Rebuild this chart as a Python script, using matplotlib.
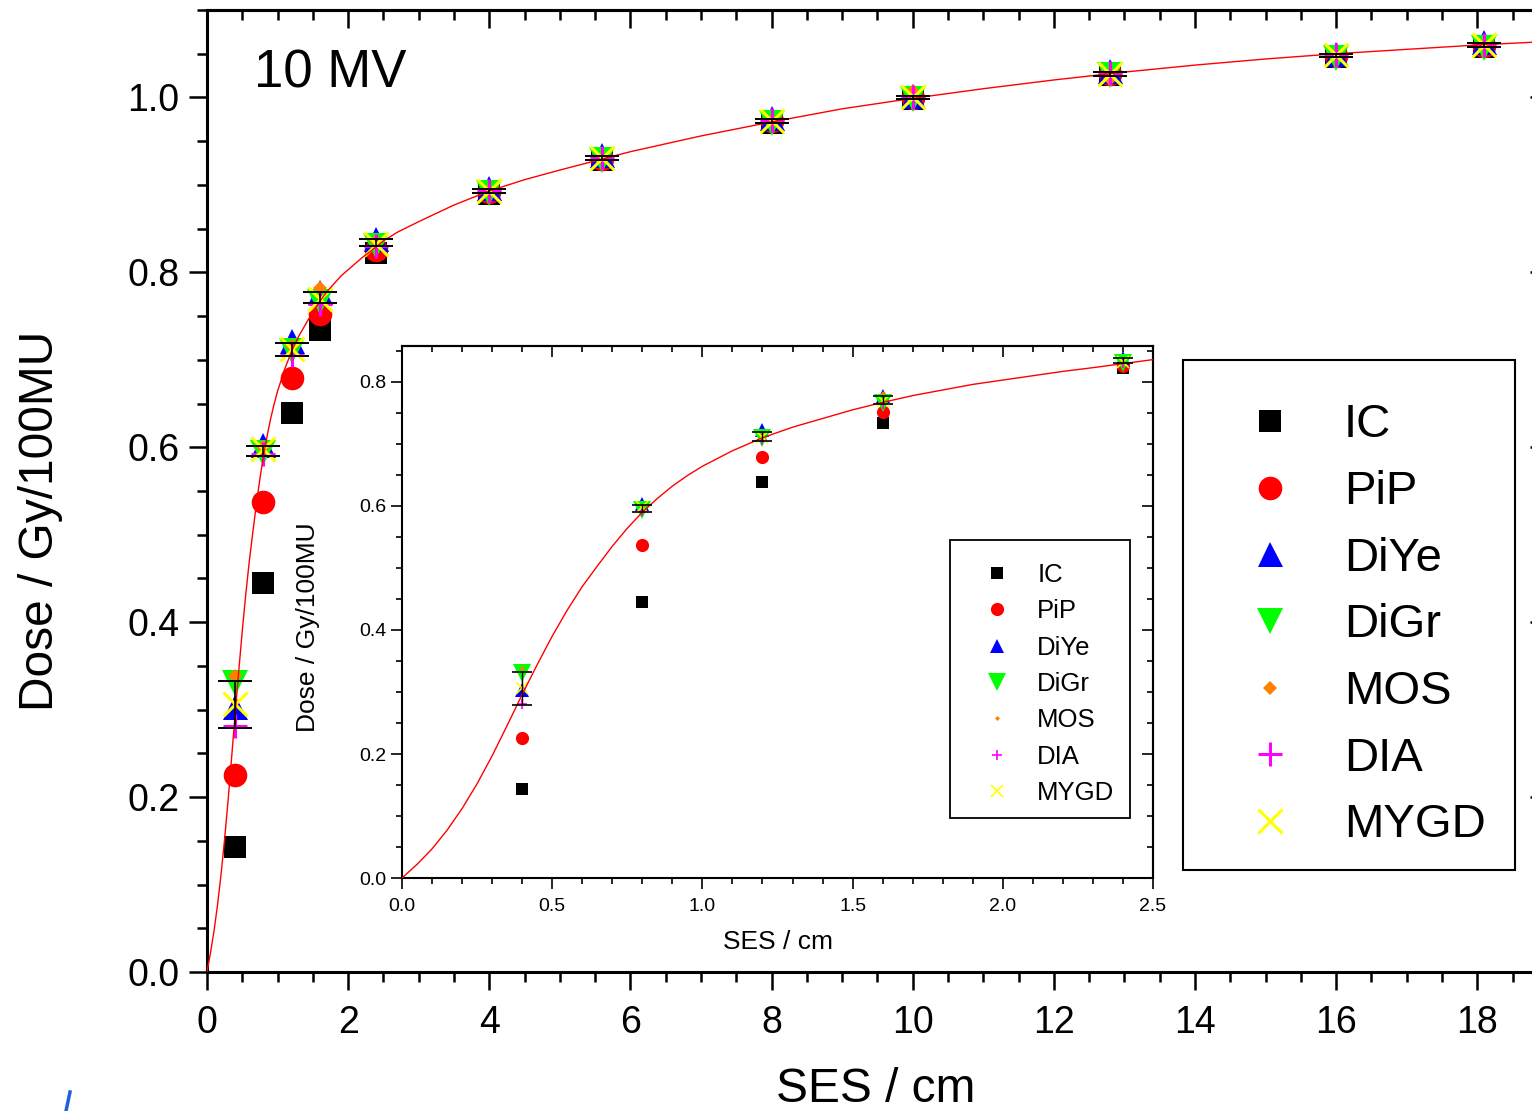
"""
depth dose build-up, 10 MV - main plot with inset of the first 2.5 cm
"""
import numpy as np
import matplotlib
matplotlib.use("Agg")
import matplotlib.pyplot as plt
from matplotlib.ticker import MultipleLocator, FormatStrFormatter
from matplotlib.lines import Line2D
from matplotlib.patches import Rectangle

plt.rcParams['font.family'] = ['Liberation Sans', 'DejaVu Sans']

# --- data ---
ses = [0.4, 0.8, 1.2, 1.6, 2.4, 4.0, 5.6, 8.0, 10.0, 12.8, 16.0, 18.1]

dose_ic = [0.143, 0.445, 0.639, 0.734, 0.822, 0.890, 0.928, 0.971, 0.998, 1.026, 1.046, 1.058]
dose_pip = [0.225, 0.537, 0.679, 0.752, 0.826, 0.892, 0.930, 0.973, 0.999, 1.027, 1.047, 1.059]
dose_diye = [0.303, 0.603, 0.722, 0.778, 0.838, 0.897, 0.934, 0.976, 1.002, 1.030, 1.050, 1.063]
dose_digr = [0.331, 0.594, 0.710, 0.766, 0.830, 0.891, 0.928, 0.971, 0.998, 1.026, 1.045, 1.057]
dose_mos = [0.338, 0.600, 0.716, 0.782, 0.836, 0.893, 0.931, 0.973, 1.007, 1.021, 1.048, 1.060]
dose_dia = [0.281, 0.592, 0.706, 0.764, 0.830, 0.893, 0.931, 0.974, 1.000, 1.028, 1.048, 1.060]
dose_mygd = [0.307, 0.598, 0.712, 0.770, 0.832, 0.893, 0.931, 0.973, 1.000, 1.027, 1.048, 1.060]

# mean of detectors with spread (black error bars)
dose_mean = [0.306, 0.5955, 0.7115, 0.771, 0.834, 0.893, 0.931, 0.973, 1.000, 1.027, 1.048, 1.060]
dose_err = [0.027, 0.0055, 0.0075, 0.006, 0.004, 0.0025, 0.0025, 0.002, 0.002, 0.002, 0.002, 0.002]

# fitted curve (red)
fit_x = [0.0, 0.05, 0.1, 0.15, 0.2, 0.25, 0.3, 0.35, 0.4, 0.45, 0.5, 0.55, 0.6, 0.65,
         0.7, 0.75, 0.8, 0.85, 0.9, 0.95, 1.0, 1.1, 1.2, 1.3, 1.4, 1.5, 1.6, 1.7, 1.8,
         1.9, 2.0, 2.1, 2.2, 2.3, 2.5, 2.7, 3.0, 3.5, 4.0, 4.5, 5.0, 5.5, 6.0, 7.0,
         8.0, 9.0, 10.0, 11.0, 12.0, 13.0, 14.0, 15.0, 16.0, 17.0, 18.0, 19.0]
fit_y = [0.0, 0.022, 0.047, 0.077, 0.112, 0.152, 0.197, 0.246, 0.296, 0.344, 0.390,
         0.432, 0.470, 0.503, 0.535, 0.564, 0.590, 0.612, 0.632, 0.649, 0.664, 0.689,
         0.710, 0.727, 0.741, 0.755, 0.767, 0.778, 0.787, 0.796, 0.803, 0.810, 0.817,
         0.823, 0.836, 0.846, 0.858, 0.877, 0.893, 0.906, 0.917, 0.9275, 0.938, 0.956,
         0.972, 0.987, 0.999, 1.010, 1.020, 1.029, 1.037, 1.044, 1.050, 1.055, 1.060, 1.064]

labels = ["IC", "PiP", "DiYe", "DiGr", "MOS", "DIA", "MYGD"]
series = [dose_ic, dose_pip, dose_diye, dose_digr, dose_mos, dose_dia, dose_mygd]
markers = ['s', 'o', '^', 'v', 'D', '+', 'x']
colors = ['black', '#ff0000', '#0000ff', '#00ff00', '#ff8000', '#ff00ff', '#ffff00']
size_main = [16, 17, 18, 19, 7, 17, 17]
size_inset = [8.5, 9.5, 10, 13, 2.5, 7.5, 8.5]

fig = plt.figure(figsize=(15.32, 11.11), dpi=100)


def style_axes(ax, xmaj, xmin, ymaj, ymin, maj_len, min_len, width, spine_w, label_size, pad):
    for sp in ax.spines.values():
        sp.set_linewidth(spine_w)
    ax.xaxis.set_major_locator(MultipleLocator(xmaj))
    ax.xaxis.set_minor_locator(MultipleLocator(xmin))
    ax.yaxis.set_major_locator(MultipleLocator(ymaj))
    ax.yaxis.set_minor_locator(MultipleLocator(ymin))
    ax.tick_params(which='both', direction='out', top=False, right=False,
                   width=width, labelsize=label_size)
    ax.tick_params(axis='x', pad=pad[0])
    ax.tick_params(axis='y', pad=pad[1])
    ax.tick_params(which='major', length=maj_len)
    ax.tick_params(which='minor', length=min_len)
    # mirrored ticks pointing inwards
    top = ax.secondary_xaxis('top')
    top.xaxis.set_major_locator(MultipleLocator(xmaj))
    top.xaxis.set_minor_locator(MultipleLocator(xmin))
    top.tick_params(which='both', direction='in', labeltop=False, width=width)
    top.tick_params(which='major', length=maj_len)
    top.tick_params(which='minor', length=min_len)
    top.spines['top'].set_linewidth(spine_w)
    right = ax.secondary_yaxis('right')
    right.yaxis.set_major_locator(MultipleLocator(ymaj))
    right.yaxis.set_minor_locator(MultipleLocator(ymin))
    right.tick_params(which='both', direction='in', labelright=False, width=width)
    right.tick_params(which='major', length=maj_len)
    right.tick_params(which='minor', length=min_len)
    right.spines['right'].set_linewidth(spine_w)


# ---------------- main plot ----------------
ax = fig.add_axes([0.1351, 0.1251, 0.8753, 0.8659])
for y, lab, m, c, s in zip(series, labels, markers, colors, size_main):
    ax.plot(ses, y, linestyle='none', marker=m, color=c, markersize=s,
            markeredgewidth=2.2 if m in '+x' else 0, label=lab, zorder=3)
ax.errorbar(ses, dose_mean, yerr=dose_err, fmt='none', ecolor='black',
            elinewidth=1.2, capsize=12.5, capthick=1.4, zorder=6)
ax.plot(fit_x, fit_y, color='red', lw=1.0, zorder=5)
ax.set_xlim(0, 19)
ax.set_ylim(0, 1.1)
style_axes(ax, 2, 0.5, 0.2, 0.05, 13, 7, 1.8, 2.2, 27, (10.5, 7))
ax.yaxis.set_major_formatter(FormatStrFormatter('%.1f'))
ax.set_xlabel("SES / cm", fontsize=34.5)
ax.set_ylabel("Dose / Gy/100MU", fontsize=34.5)
ax.xaxis.label.set_va('center')
ax.yaxis.label.set_va('center')
ax.xaxis.set_label_coords(0.499, -0.122)
ax.yaxis.set_label_coords(-0.1245, 0.469)
fig.text(254 / 1532, 1 - 88 / 1111, "10 MV", fontsize=38, va='baseline', ha='left')

# legend entries without frame, box drawn separately (Origin style)
fig.legend(loc='upper left', bbox_to_anchor=(0.7572, 0.676), fontsize=34,
           frameon=False, labelspacing=0.48, borderpad=0.92, handlelength=2.8,
           handletextpad=0.17, borderaxespad=0, handles=ax.get_lines()[:7])
fig.add_artist(Rectangle((0.7722, 0.2169), 0.2167, 0.4590, transform=fig.transFigure,
                         fill=False, edgecolor='black', lw=1.5, zorder=10))

# ---------------- inset ----------------
ins = fig.add_axes([0.2624, 0.2097, 0.4902, 0.4789])
for y, lab, m, c, s in zip(series, labels, markers, colors, size_inset):
    ins.plot(ses, y, linestyle='none', marker=m, color=c, markersize=s,
             markeredgewidth=1.2 if m in '+x' else 0, label=lab, zorder=3)
ins.errorbar(ses, dose_mean, yerr=dose_err, fmt='none', ecolor='black',
             elinewidth=1.0, capsize=7.2, capthick=1.2, zorder=6)
ins.plot(fit_x, fit_y, color='red', lw=1.0, zorder=5)
ins.set_xlim(0, 2.5)
ins.set_ylim(0, 0.858)
style_axes(ins, 0.5, 0.1, 0.2, 0.05, 8, 4.5, 1.2, 1.5, 14, (6.5, 3.5))
ins.xaxis.set_major_formatter(FormatStrFormatter('%.1f'))
ins.yaxis.set_major_formatter(FormatStrFormatter('%.1f'))
ins.set_xlabel("SES / cm", fontsize=19)
ins.set_ylabel("Dose / Gy/100MU", fontsize=19)
ins.xaxis.label.set_va('center')
ins.yaxis.label.set_va('center')
ins.xaxis.set_label_coords(0.5007, -0.12)
ins.yaxis.set_label_coords(-0.125, 0.472)

leg2 = fig.legend(loc='upper left', bbox_to_anchor=(0.6116, 0.514), fontsize=18.5,
                  frameon=False, labelspacing=0.48, borderpad=0.9, handlelength=2.9,
                  handletextpad=0.1, borderaxespad=0, handles=ins.get_lines()[:7])
fig.add_artist(Rectangle((0.6201, 0.2637), 0.1175, 0.2502, transform=fig.transFigure,
                         facecolor='white', edgecolor='black', lw=1.3, zorder=2))
leg2.set_zorder(3)

# small blue stroke in the bottom left corner of the original page
fig.add_artist(Line2D([66 / 1532, 70 / 1532], [0.0, 1 - 1092 / 1111],
                      color='#2060e0', lw=2.5))

fig.savefig('out.png', dpi=100)
